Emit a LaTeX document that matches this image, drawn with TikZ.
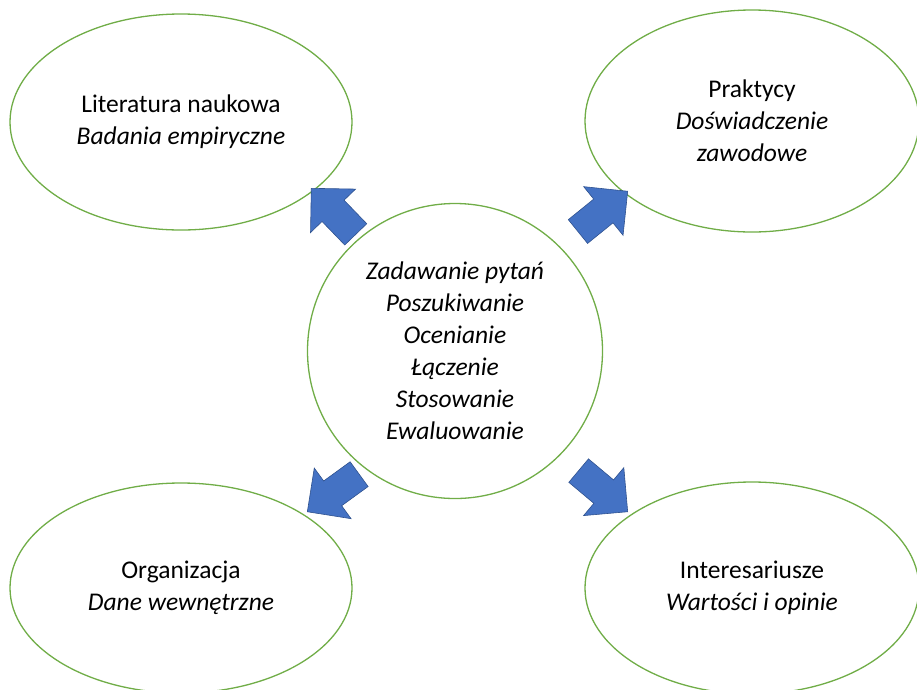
\documentclass[tikz,border=0pt]{standalone}
\usepackage{fontspec}
\setmainfont{Carlito}
\usetikzlibrary{shapes.geometric,shapes.arrows}
\definecolor{egreen}{HTML}{70AD47}
\definecolor{ablue}{HTML}{4472C4}
\definecolor{ablueborder}{HTML}{2F528F}
\tikzset{
  oval/.style={ellipse, draw=egreen, line width=1.3pt, fill=white, inner sep=0pt,
    align=center, font=\fontsize{25.5}{32}\selectfont},
  blockarrow/.style={single arrow, fill=ablue, draw=ablueborder, line width=0.6pt,
    inner xsep=0pt, inner ysep=15pt, minimum height=64pt,
    single arrow head extend=16pt, single arrow tip angle=90, anchor=tip}
}
\begin{document}
\begin{tikzpicture}[x=1pt,y=-1pt]
\useasboundingbox (0,0) rectangle (917,689);
\node[oval, minimum width=342pt, minimum height=216pt] (e1) at (181,122)
  {Literatura naukowa\\\textit{Badania empiryczne}};
\node[oval, minimum width=334pt, minimum height=222pt] (e2) at (752,121)
  {Praktycy\\\textit{Doświadczenie}\\\textit{zawodowe}};
\node[oval, minimum width=342pt, minimum height=210pt] (e3) at (181,588)
  {Organizacja\\\textit{Dane wewnętrzne}};
\node[oval, minimum width=334pt, minimum height=212pt] (e4) at (752,588)
  {Interesariusze\\\textit{Wartości i opinie}};
\node[oval, circle, minimum size=295pt] (c) at (455,351)
  {\textit{Zadawanie pytań}\\\textit{Poszukiwanie}\\\textit{Ocenianie}\\\textit{Łączenie}\\\textit{Stosowanie}\\\textit{Ewaluowanie}};
\node[blockarrow, rotate=134] (a1) at (311,188) {};
\node[blockarrow, rotate=39] (a2) at (628,191) {};
\node[blockarrow, rotate=216] (a3) at (307,512) {};
\node[blockarrow, rotate=-40] (a4) at (628,512) {};
\end{tikzpicture}
\end{document}
